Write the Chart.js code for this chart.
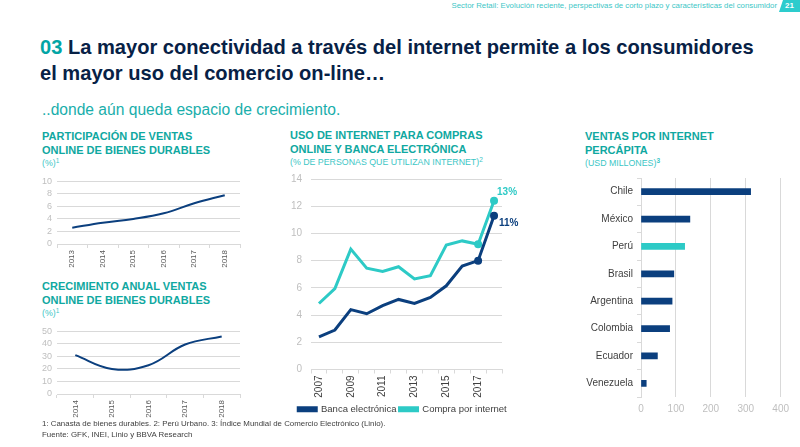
<!DOCTYPE html>
<html>
<head>
<meta charset="utf-8">
<script src="https://cdn.jsdelivr.net/npm/chart.js@4.4.0/dist/chart.umd.min.js"></script>
<style>
  body { margin: 0; width: 800px; height: 447px; background: #fff; position: relative; overflow: hidden;
         font-family: "Liberation Sans", Arial, sans-serif; }
  .abs { position: absolute; white-space: nowrap; }
  .hdr { right: 23px; top: 0; font-size: 7.8px; line-height: 11px; color: #3cc6c6; }
  .page { left: 779px; top: 0; width: 21px; height: 12px; background: #2dcccd; color: #fff; font-size: 8px;
          font-weight: bold; line-height: 12px; text-align: center; clip-path: polygon(4px 0, 100% 0, 100% 100%, 0 100%); }
  .title { left: 40px; top: 34px; font-size: 20.1px; line-height: 26px; font-weight: bold; color: #072146; }
  .title span { color: #02a5a5; }
  .sub { left: 42px; top: 100px; font-size: 15.6px; line-height: 20px; color: #19aeab; }
  .ct { font-size: 11px; line-height: 14px; font-weight: bold; color: #10a8a1; }
  .cs { font-size: 8.8px; line-height: 10px; color: #3cc6c6; }
  .cs sup { font-size: 6.5px; vertical-align: 3px; }
  .note { left: 42px; top: 418px; font-size: 7.9px; line-height: 11px; color: #404040; }
  canvas { position: absolute; }
</style>
</head>
<body>
<div class="abs hdr">Sector Retail: Evolución reciente, perspectivas de corto plazo y características del consumidor</div>
<div class="abs page">21</div>
<div class="abs title"><span>03</span> La mayor conectividad a través del internet permite a los consumidores<br>el mayor uso del comercio on-line…</div>
<div class="abs sub">..donde aún queda espacio de crecimiento.</div>

<div class="abs ct" style="left:42px;top:129px">PARTICIPACIÓN DE VENTAS<br>ONLINE DE BIENES DURABLES</div>
<div class="abs cs" style="left:42px;top:156px">(%)<sup>1</sup></div>
<div class="abs ct" style="left:42px;top:279px">CRECIMIENTO ANUAL VENTAS<br>ONLINE DE BIENES DURABLES</div>
<div class="abs cs" style="left:42px;top:306px">(%)<sup>1</sup></div>
<div class="abs ct" style="left:290px;top:128px">USO DE INTERNET PARA COMPRAS<br>ONLINE Y BANCA ELECTRÓNICA</div>
<div class="abs cs" style="left:290px;top:155px">(% DE PERSONAS QUE UTILIZAN INTERNET)<sup>2</sup></div>
<div class="abs ct" style="left:585px;top:129px">VENTAS POR INTERNET<br>PERCÁPITA</div>
<div class="abs cs" style="left:585px;top:156px">(USD MILLONES)<sup><b>3</b></sup></div>

<canvas id="share" style="left:25px;top:171px" width="220" height="99"></canvas>
<canvas id="growth" style="left:25px;top:321px" width="220" height="99"></canvas>
<canvas id="usage" style="left:288px;top:164px" width="237" height="260"></canvas>
<canvas id="percap" style="left:565px;top:168px" width="230" height="255"></canvas>

<div class="abs note">1: Canasta de bienes durables. 2: Perú Urbano. 3: Índice Mundial de Comercio Electrónico (Linio).<br>Fuente: GFK, INEI, Linio y BBVA Research</div>

<script>
// Participación de ventas online de bienes durables (%)
const shareYears = ['2013', '2014', '2015', '2016', '2017', '2018'];
const shareValues = [2.6, 3.4, 4.0, 4.9, 6.5, 7.8];

// Crecimiento anual ventas online (%)
const growthYears = ['2014', '2015', '2016', '2017', '2018'];
const growthValues = [31, 20, 23, 39.5, 46];

// Uso de internet para compras online y banca electrónica (%)
const usageYears = ['2007', '2008', '2009', '2010', '2011', '2012', '2013', '2014', '2015', '2016', '2017', '2018'];
const bancaValues = [2.4, 2.9, 4.4, 4.1, 4.7, 5.15, 4.85, 5.3, 6.15, 7.6, 8.0, 11.3];
const compraValues = [4.85, 5.95, 8.85, 7.45, 7.2, 7.55, 6.65, 6.9, 9.15, 9.45, 9.2, 12.4];
const usageEndLabels = ['11%', '13%'];

// Ventas por internet per cápita (USD millones)
const countries = ['Chile', 'México', 'Perú', 'Brasil', 'Argentina', 'Colombia', 'Ecuador', 'Venezuela'];
const perCapValues = [314, 140, 125, 94, 89, 82, 47, 15];

const NAVY = '#0b3f7e';
const AQUA = '#2dcac6';
const GRID = '#d9d9d9';
const FONT = 'Liberation Sans';

Chart.defaults.font.family = FONT;
Chart.defaults.animation = false;

function fixWidth(w) { return scale => { scale.width = w; }; }
function fixHeight(h) { return scale => { scale.height = h; }; }

function smallLine(id, labels, values, max, step) {
    new Chart(document.getElementById(id), {
        type: 'line',
        data: {
            labels: labels,
            datasets: [{ data: values, borderColor: NAVY, borderWidth: 2, pointRadius: 0, tension: 0.4 }]
        },
        options: {
            responsive: false,
            layout: { padding: { right: 5 } },
            plugins: { legend: { display: false }, tooltip: { enabled: false } },
            scales: {
                x: {
                    offset: true,
                    grid: { offset: true, drawOnChartArea: false, tickLength: 4, color: GRID },
                    border: { color: GRID },
                    ticks: { minRotation: 90, maxRotation: 90, padding: 2, color: '#595959', font: { size: 8 } },
                    afterFit: fixHeight(26)
                },
                y: {
                    min: 0, max: max,
                    grid: { color: GRID, drawTicks: false },
                    border: { display: false },
                    ticks: { stepSize: step, autoSkip: false, padding: 5, color: '#bfbfbf', font: { size: 9 } },
                    afterFit: fixWidth(32)
                }
            }
        }
    });
}

smallLine('share', shareYears, shareValues, 10, 2);
smallLine('growth', growthYears, growthValues, 50, 10);

// Labels at the last point of each line
const endLabels = {
    id: 'endLabels',
    afterDatasetsDraw(chart) {
        const c = chart.ctx;
        c.save();
        c.font = 'bold 10px "' + FONT + '"';
        c.textBaseline = 'middle';
        chart.data.datasets.forEach((ds, i) => {
            const pts = chart.getDatasetMeta(i).data;
            const p = pts[pts.length - 1];
            c.fillStyle = ds.borderColor;
            if (i === 0) c.fillText(usageEndLabels[i], p.x + 5, p.y + 8);
            else c.fillText(usageEndLabels[i], p.x + 3, p.y - 9);
        });
        c.restore();
    }
};

const lastTwo = ctx => (ctx.dataIndex >= usageYears.length - 2 ? 4 : 0);

new Chart(document.getElementById('usage'), {
    type: 'line',
    data: {
        labels: usageYears,
        datasets: [
            { label: 'Banca electrónica', data: bancaValues, borderColor: NAVY, backgroundColor: NAVY,
              borderWidth: 3, pointRadius: lastTwo, pointBackgroundColor: NAVY, pointBorderWidth: 0 },
            { label: 'Compra por internet', data: compraValues, borderColor: AQUA, backgroundColor: AQUA,
              borderWidth: 3, pointRadius: lastTwo, pointBackgroundColor: AQUA, pointBorderWidth: 0 }
        ]
    },
    options: {
        responsive: false,
        layout: { padding: { right: 8 } },
        plugins: {
            tooltip: { enabled: false },
            legend: {
                position: 'bottom',
                labels: { boxWidth: 18, boxHeight: 3, padding: 3, color: '#404040', font: { size: 9.5 } }
            }
        },
        scales: {
            x: {
                offset: true,
                grid: { offset: true, drawOnChartArea: false, tickLength: 4, color: GRID },
                border: { color: GRID },
                ticks: {
                    autoSkip: false, minRotation: 90, maxRotation: 90, padding: 2, color: '#404040', font: { size: 10 },
                    callback: (v, i) => (i % 2 === 0 ? usageYears[i] : '')
                },
                afterFit: fixHeight(32)
            },
            y: {
                min: 0, max: 14,
                grid: { color: GRID, drawTicks: false },
                border: { display: false },
                ticks: { stepSize: 2, autoSkip: false, padding: 9, color: '#bfbfbf', font: { size: 10 } },
                afterFit: fixWidth(23)
            },
            // empty right-hand axis: leaves room for the end labels
            side: {
                position: 'right',
                grid: { display: false },
                border: { display: false },
                ticks: { display: false },
                afterFit: fixWidth(15)
            }
        }
    },
    plugins: [endLabels]
});

new Chart(document.getElementById('percap'), {
    type: 'bar',
    data: {
        labels: countries,
        datasets: [{
            data: perCapValues,
            backgroundColor: countries.map(c => (c === 'Perú' ? AQUA : NAVY)),
            barThickness: 6
        }]
    },
    options: {
        indexAxis: 'y',
        responsive: false,
        layout: { padding: { right: 12 } },
        plugins: { legend: { display: false }, tooltip: { enabled: false } },
        scales: {
            x: {
                min: 0, max: 400,
                grid: { color: GRID, drawTicks: false },
                border: { display: false },
                ticks: { stepSize: 100, padding: 6, color: '#bfbfbf', font: { size: 10 } },
                afterFit: fixHeight(26)
            },
            y: {
                grid: { offset: true, drawOnChartArea: false, tickLength: 4, color: GRID },
                border: { color: GRID },
                ticks: { padding: 4, color: '#404040', font: { size: 10 } },
                afterFit: fixWidth(76)
            }
        }
    }
});
</script>
</body>
</html>
